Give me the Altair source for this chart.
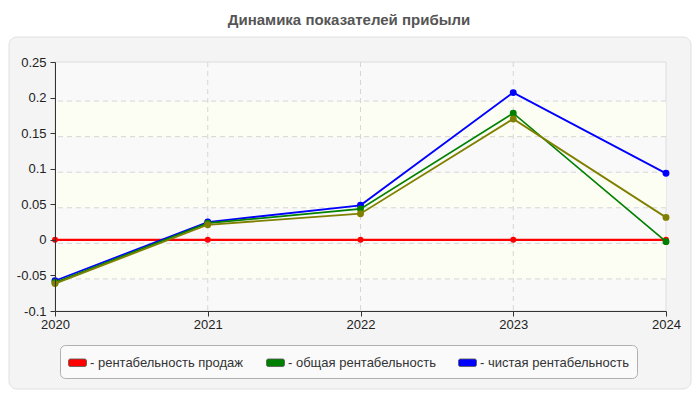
import altair as alt
import pandas as pd

TITLE = "Динамика показателей прибыли"
YEARS = [2020, 2021, 2022, 2023, 2024]
SERIES = ["рентабельность продаж", "общая рентабельность", "чистая рентабельность", "прочая рентабельность"]
COLORS = ["#ff0000", "#008000", "#0000ff", "#808000"]
SALES = [0.0, 0.0, 0.0, 0.0, 0.0]
GENERAL = [-0.060, 0.0235, 0.0435, 0.178, -0.0025]
NET = [-0.0575, 0.025, 0.0486, 0.207, 0.0935]
OTHER = [-0.0615, 0.0212, 0.0368, 0.170, 0.0316]
Y_TICKS = [-0.1, -0.05, 0, 0.05, 0.1, 0.15, 0.2, 0.25]
Y_GRID = [-0.05, 0, 0.05, 0.1, 0.15, 0.2]
X_GRID = [2021, 2022, 2023]
BAND_LO = [0.15, 0.05, -0.05]
BAND_HI = [0.2, 0.1, 0.0]

VALUES = [SALES, GENERAL, NET, OTHER]
rows = []
for name, vals in zip(SERIES, VALUES):
    for yr, v in zip(YEARS, vals):
        rows.append({"year": yr, "value": v, "series": name})
df = pd.DataFrame(rows)

FONT = "Liberation Sans"
W, H = 611, 249

xscale = alt.Scale(domain=[YEARS[0], YEARS[-1]], nice=False, zero=False)
yscale = alt.Scale(domain=[Y_TICKS[0], Y_TICKS[-1]], nice=False, zero=False)
cscale = alt.Scale(domain=SERIES, range=COLORS)

XAXIS = alt.Axis(values=YEARS, format="d", labelFlush=False, grid=False,
                 domainColor="#333333", tickColor="#333333", tickSize=5,
                 labelFont=FONT, labelFontSize=13, labelColor="#222222",
                 labelPadding=2, zindex=1)
YAXIS = alt.Axis(values=Y_TICKS, labelExpr="'' + datum.value", labelFlush=False,
                 grid=False, domainColor="#333333", tickColor="#333333",
                 tickSize=5, labelFont=FONT, labelFontSize=13,
                 labelColor="#222222", labelPadding=4, zindex=1)


def X(field):
    return alt.X(field, scale=xscale, axis=XAXIS, title=None)


def Y(field):
    return alt.Y(field, scale=yscale, axis=YAXIS, title=None)


SYMBOL = ("M-0.8,-0.42H0.8A0.2,0.2 0 0 1 1,-0.22V0.22A0.2,0.2 0 0 1 0.8,0.42"
          "H-0.8A0.2,0.2 0 0 1 -1,0.22V-0.22A0.2,0.2 0 0 1 -0.8,-0.42Z")

legend = alt.Legend(
    title=None, orient="none", legendX=5, legendY=283, direction="horizontal",
    values=SERIES[:3], symbolType=SYMBOL, symbolSize=324, symbolOpacity=1,
    symbolStrokeColor="#555555", symbolStrokeWidth=0.8,
    labelExpr="'- ' + datum.label", labelFont=FONT, labelFontSize=13,
    labelColor="#333333", labelOffset=3, columnPadding=20, padding=8,
    fillColor="#fafafa", strokeColor="#b0b0b0", cornerRadius=5, zindex=2,
)

one = pd.DataFrame({"t": [TITLE]})

panel = alt.Chart(one).mark_rect(
    fill="#f4f4f4", stroke="#e0e0e0", strokeWidth=1, cornerRadius=8
).encode(x=alt.value(-46), x2=alt.value(636), y=alt.value(-25), y2=alt.value(327))

bgdf = pd.DataFrame({"x": [YEARS[0]], "x2": [YEARS[-1]], "y": [Y_TICKS[0]], "y2": [Y_TICKS[-1]]})
plotbg = alt.Chart(bgdf).mark_rect(fill="#f9f9f9", stroke="#dddddd", strokeWidth=1).encode(
    x=X("x:Q"), x2="x2:Q", y=Y("y:Q"), y2="y2:Q",
)

bands = alt.Chart(pd.DataFrame({"lo": BAND_LO, "hi": BAND_HI})).mark_rect(
    fill="#fcfdf3", yOffset=4, y2Offset=4
).encode(y=Y("lo:Q"), y2="hi:Q", x=alt.value(0), x2=alt.value(W))

hgrid = alt.Chart(pd.DataFrame({"v": Y_GRID})).mark_rule(
    color="#d6d6d6", strokeDash=[5, 4], strokeWidth=1, yOffset=3.5
).encode(y=Y("v:Q"))

vgrid = alt.Chart(pd.DataFrame({"v": X_GRID})).mark_rule(
    color="#d6d6d6", strokeDash=[5, 4], strokeWidth=1
).encode(x=X("v:Q"))

layers = [panel, plotbg, bands, hgrid, vgrid]
draw_order = [0, 2, 1, 3]
widths = {0: 2.3, 1: 1.7, 2: 1.8, 3: 1.8}
sizes = {0: 36, 1: 48, 2: 48, 3: 48}
for i in draw_order:
    name = SERIES[i]
    base = alt.Chart(df).transform_filter(alt.datum.series == name)
    line = base.mark_line(strokeWidth=widths[i], color=COLORS[i]).encode(
        x=X("year:Q"), y=Y("value:Q"),
    )
    pts = base.mark_circle(size=sizes[i], opacity=1).encode(
        x=X("year:Q"), y=Y("value:Q"),
        color=alt.Color("series:N", scale=cscale, legend=legend),
    )
    layers += [line, pts]

title = alt.Chart(one).mark_text(
    font=FONT, fontSize=15, fontWeight="bold", color="#555555",
    align="center", baseline="alphabetic"
).encode(text="t:N", x=alt.value(294), y=alt.value(-37))
layers.append(title)

chart = alt.layer(*layers).properties(
    width=W, height=H,
    padding={"left": 47, "top": 54, "right": 26, "bottom": 79},
    autosize=alt.AutoSizeParams(type="none"),
    background="white",
).configure_view(stroke=None)

chart.save("out.html", embed_options={"renderer": "svg", "actions": False})
